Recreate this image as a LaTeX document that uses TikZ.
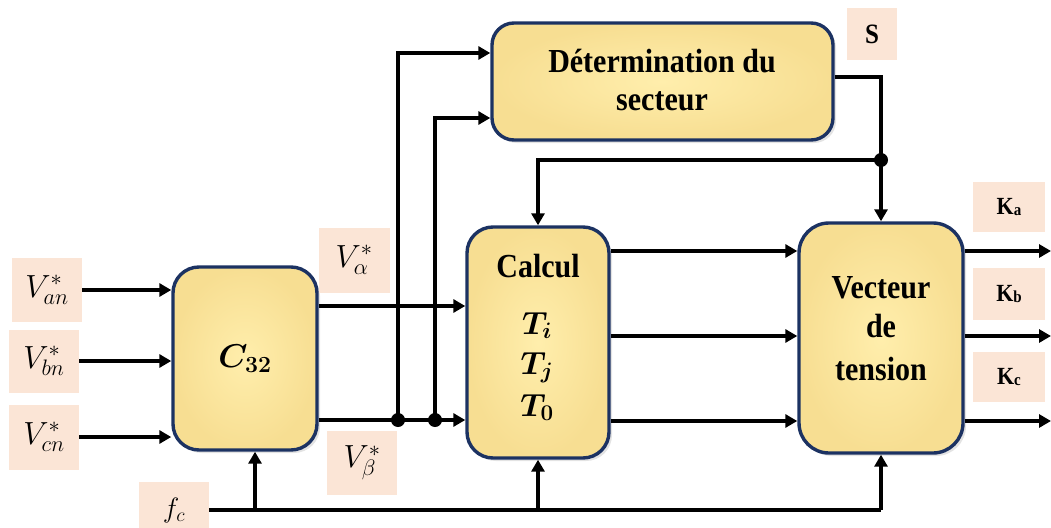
\RequirePackage{fix-cm}
\documentclass[tikz,border=0pt]{standalone}
\usepackage{amsmath}
\usepackage{bm}
\usepackage{graphicx}
\usepackage{fontspec}
\setmainfont[BoldFont={Liberation Serif Bold},ItalicFont={Liberation Serif Italic},BoldItalicFont={Liberation Serif Bold Italic}]{Liberation Serif}
\usetikzlibrary{arrows.meta,shadows}

\definecolor{boxedge}{RGB}{28,50,98}
\definecolor{boxin}{RGB}{255,238,172}
\definecolor{boxout}{RGB}{247,222,146}
\definecolor{tagfill}{RGB}{251,229,214}

\tikzset{
  block/.style={draw=boxedge, line width=3.4pt, rounded corners=#1,
    inner color=boxin, outer color=boxout,
    drop shadow={opacity=0.22, shadow xshift=3pt, shadow yshift=-3pt}},
  block/.default=26pt,
  tag/.style={fill=tagfill, inner sep=0pt},
  btext/.style={font=\fontsize{30}{36}\selectfont\bfseries, inner sep=0pt},
  mtext/.style={font=\fontsize{32}{38}\selectfont, inner sep=0pt},
  wire/.style={line width=4pt},
  flow/.style={wire, -{Triangle[length=12pt,width=13pt]}},
  jdot/.style={circle, fill=black, inner sep=0pt, minimum size=14pt},
}

% tall bold lettering used inside the blocks
\newcommand{\tallword}[1]{\scalebox{1}[1.12]{#1}}
\newcommand{\kout}[1]{\tallword{K{\fontsize{15}{15}\selectfont\raisebox{-1pt}{#1}}}}

\begin{document}
\begin{tikzpicture}[x=1pt,y=-1pt]
\useasboundingbox (0,0) rectangle (1051,527);

% processing blocks
\node[block=26pt, minimum width=144pt, minimum height=183pt] (c32) at (245,358.5)
  {\fontsize{33}{38}\selectfont$\bm{C_{32}}$};
\node[block=22pt, minimum width=341pt, minimum height=117pt] (det) at (662.5,81.5) {};
\node[block=26pt, minimum width=142pt, minimum height=231pt] (calc) at (538,342.5) {};
\node[block=30pt, minimum width=164pt, minimum height=230pt] (vec) at (881,338) {};

% block texts
\node[btext, anchor=base] (dett1) at (662,72) {\tallword{Détermination du}};
\node[btext, anchor=base] (dett2) at (662,110) {\tallword{secteur}};
\node[btext, anchor=base] (calct) at (538,277) {\tallword{Calcul}};
\node[mtext, anchor=base] (ti) at (537,334) {$\bm{T_i}$};
\node[mtext, anchor=base] (tj) at (537,374) {$\bm{T_j}$};
\node[mtext, anchor=base] (t0) at (537,416) {$\bm{T_0}$};
\node[btext, anchor=base] (vect1) at (881,298) {\tallword{Vecteur}};
\node[btext, anchor=base] (vect2) at (881,337) {\tallword{de}};
\node[btext, anchor=base] (vect3) at (881,380) {\tallword{tension}};

% signal tags
\node[tag, minimum width=70pt, minimum height=64pt] (lan) at (47,290)
  {\fontsize{32}{38}\selectfont$V_{an}^{*}$};
\node[tag, minimum width=70pt, minimum height=63pt] (lbn) at (44,361)
  {\fontsize{32}{38}\selectfont$V_{bn}^{*}$};
\node[tag, minimum width=70pt, minimum height=65pt] (lcn) at (44,437)
  {\fontsize{32}{38}\selectfont$V_{cn}^{*}$};
\node[tag, minimum width=71pt, minimum height=65pt] (lal) at (354,260)
  {\fontsize{32}{38}\selectfont$V_{\alpha}^{*}$};
\node[tag, minimum width=70pt, minimum height=64pt] (lbe) at (362,463)
  {\fontsize{32}{38}\selectfont$V_{\beta}^{*}$};
\node[tag, minimum width=70pt, minimum height=56pt] (lfc) at (174,510)
  {\fontsize{28}{32}\selectfont$f_c$};
\node[tag, minimum width=50pt, minimum height=52pt] (ls) at (872,34)
  {\fontsize{25}{30}\selectfont\bfseries\tallword{S}};
\node[tag, minimum width=72pt, minimum height=50pt] (lka) at (1009,207)
  {\fontsize{22}{26}\selectfont\bfseries\kout{a}};
\node[tag, minimum width=72pt, minimum height=52pt] (lkb) at (1009,294)
  {\fontsize{22}{26}\selectfont\bfseries\kout{b}};
\node[tag, minimum width=72pt, minimum height=50pt] (lkc) at (1009,377)
  {\fontsize{22}{26}\selectfont\bfseries\kout{c}};

% junctions and free ends
\node[jdot] (j1) at (398,420) {};
\node[jdot] (j2) at (435,420) {};
\node[jdot] (js) at (vec.north |- 0,160) {};
\coordinate (fend) at (vec.south |- 0,510);
\coordinate (ftap) at (255,510);
\coordinate (outa) at (1051,251);
\coordinate (outb) at (1051,336);
\coordinate (outc) at (1051,421);

% inputs of C32
\draw[flow] (lan) -- (lan -| c32.west);
\draw[flow] (lbn) -- (lbn -| c32.west);
\draw[flow] (lcn) -- (lcn -| c32.west);

% alpha / beta components
\draw[flow] (c32.east |- 0,306) -- (calc.west |- 0,306);
\draw[flow] (c32.east |- j1) -- (calc.west |- j1);
\draw[flow] (j1.center) -- (j1 |- 0,53) -- (det.west |- 0,53);
\draw[flow] (j2.center) |- (det.west |- 0,118);

% sector number
\draw[wire] (det.east |- 0,77) -| (js.center);
\draw[flow] (js.center) -- (vec.north);
\draw[flow] (js.center) -| (calc.north);

% switching frequency
\draw[wire] (lfc.east |- fend) -- (fend);
\draw[flow] (fend) -- (vec.south);
\draw[flow] (calc.south |- fend) -- (calc.south);
\draw[flow] (ftap) -- (ftap |- c32.south);

% times to switching vectors, and gate signals
\draw[flow] (calc.east |- outa) -- (vec.west |- outa);
\draw[flow] (calc.east |- outb) -- (vec.west |- outb);
\draw[flow] (calc.east |- outc) -- (vec.west |- outc);
\draw[flow] (vec.east |- outa) -- (outa);
\draw[flow] (vec.east |- outb) -- (outb);
\draw[flow] (vec.east |- outc) -- (outc);
\end{tikzpicture}
\end{document}
